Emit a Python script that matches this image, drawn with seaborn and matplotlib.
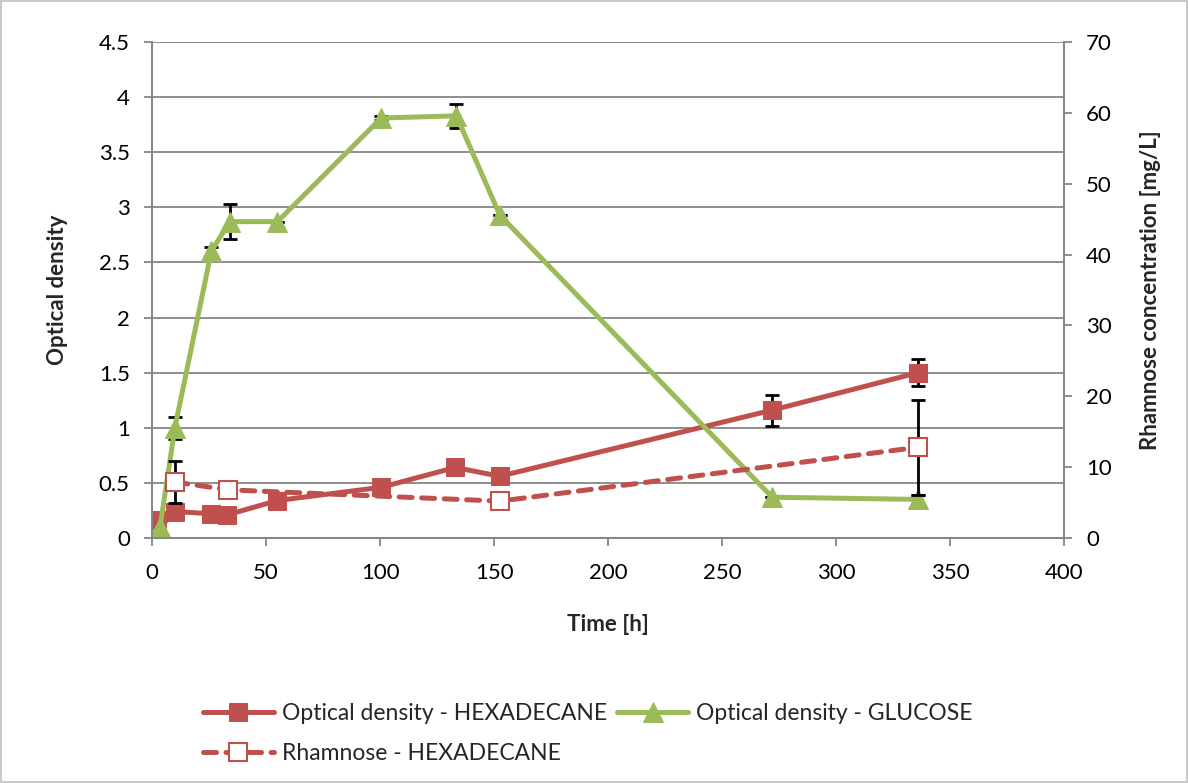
import matplotlib
matplotlib.use("Agg")
import matplotlib.pyplot as plt
import matplotlib.patches as mpatches
import seaborn as sns
import pandas as pd
from matplotlib.ticker import FuncFormatter, MultipleLocator

# data
hex_time = [2, 10, 26, 33, 55, 100.5, 133, 152.5, 272, 336]
hex_od = [0.16, 0.24, 0.22, 0.21, 0.34, 0.46, 0.64, 0.56, 1.16, 1.50]
hex_err = [0.0, 0.0, 0.0, 0.0, 0.0, 0.0, 0.0, 0.0, 0.14, 0.12]

glu_time = [3.5, 10, 26, 34, 55, 100.5, 133.5, 152.5, 272, 336]
glu_od = [0.10, 1.00, 2.60, 2.87, 2.87, 3.81, 3.83, 2.93, 0.37, 0.35]
glu_err = [0.05, 0.10, 0.04, 0.16, 0.0, 0.02, 0.11, 0.0, 0.0, 0.04]

rha_time = [10, 33.5, 152.5, 336]
rha_conc = [7.9, 6.8, 5.2, 12.8]
rha_err = [2.9, 0.8, 0.0, 6.7]

RED = "#C0504D"
GREEN = "#9BBB59"
GRID = "#868686"

sns.set_style("white")
plt.rcParams["font.family"] = ["Lato", "DejaVu Sans"]

hex_df = pd.DataFrame({"t": hex_time, "v": hex_od})
glu_df = pd.DataFrame({"t": glu_time, "v": glu_od})
rha_df = pd.DataFrame({"t": rha_time, "v": rha_conc})

fig = plt.figure(figsize=(11.88, 7.83), dpi=100)
ax = fig.add_axes([0.128, 0.3129, 0.7676, 0.6335])
ax2 = ax.twinx()

# error bars first so markers sit on top
ebkw = dict(fmt="none", ecolor="black", elinewidth=2, capsize=5, capthick=2)
ax.errorbar(hex_time, hex_od, yerr=hex_err, zorder=2, **ebkw)
ax.errorbar(glu_time, glu_od, yerr=glu_err, zorder=2, **ebkw)
ax2.errorbar(rha_time, rha_conc, yerr=rha_err, zorder=2, **ebkw)

sns.lineplot(data=hex_df, x="t", y="v", ax=ax, color=RED, lw=3.6, marker="s",
             markersize=13, markeredgecolor=RED, zorder=3, label="Optical density - HEXADECANE",
             legend=False)
sns.lineplot(data=glu_df, x="t", y="v", ax=ax, color=GREEN, lw=3.6, marker="^",
             markersize=14, markeredgecolor=GREEN, zorder=3, label="Optical density - GLUCOSE",
             legend=False)
sns.lineplot(data=rha_df, x="t", y="v", ax=ax2, color=RED, lw=3.6, marker="s",
             markersize=13, markerfacecolor="white", markeredgecolor=RED, markeredgewidth=1.5,
             zorder=3, label="Rhamnose - HEXADECANE", legend=False)
rl = ax2.lines[-1]
rl.set_dashes([2.6, 1.9])
rl.set_dash_capstyle("round")

ax.set_xlim(0, 400)
ax.set_ylim(0, 4.5)
ax2.set_ylim(0, 70)
ax.xaxis.set_major_locator(MultipleLocator(50))
ax.yaxis.set_major_locator(MultipleLocator(0.5))
ax2.yaxis.set_major_locator(MultipleLocator(10))
ax.yaxis.set_major_formatter(FuncFormatter(lambda v, p: f"{v:g}"))

ax.grid(axis="y", color=GRID, lw=1.3)
ax.grid(axis="x", visible=False)
for a in (ax, ax2):
    for s in a.spines.values():
        s.set_color(GRID)
        s.set_linewidth(1.3)
    a.spines["top"].set_visible(False)
    a.tick_params(colors=GRID, labelcolor="black", labelsize=16, length=6, width=1.3,
                  direction="out")
ax.tick_params(axis="x", bottom=True, pad=12)
ax.tick_params(axis="y", left=True, pad=10)
ax2.tick_params(axis="y", right=True, pad=10)

ax.set_xlabel("Time [h]", fontsize=16, fontweight="bold", labelpad=22)
ax.set_ylabel("Optical density", fontsize=16, fontweight="bold", labelpad=22)
ax2.set_ylabel("Rhamnose concentration [mg/L]", fontsize=16, fontweight="bold", labelpad=20)

h1, l1 = ax.get_legend_handles_labels()
h2, l2 = ax2.get_legend_handles_labels()
handles = [h1[0], h2[0], h1[1]]
labels = [l1[0], l2[0], l1[1]]
fig.legend(handles, labels, loc="upper left", bbox_to_anchor=(0.163, 0.114), ncol=2,
           frameon=False, fontsize=16.5, handlelength=3.1, handletextpad=0.35,
           columnspacing=0.45, labelspacing=0.85, borderaxespad=0)

fig.patches.append(mpatches.Rectangle((0.001, 0.001), 0.998, 0.998, transform=fig.transFigure,
                                      fill=False, edgecolor="#BFBFBF", lw=1.2))

fig.savefig("out.png", dpi=100)
